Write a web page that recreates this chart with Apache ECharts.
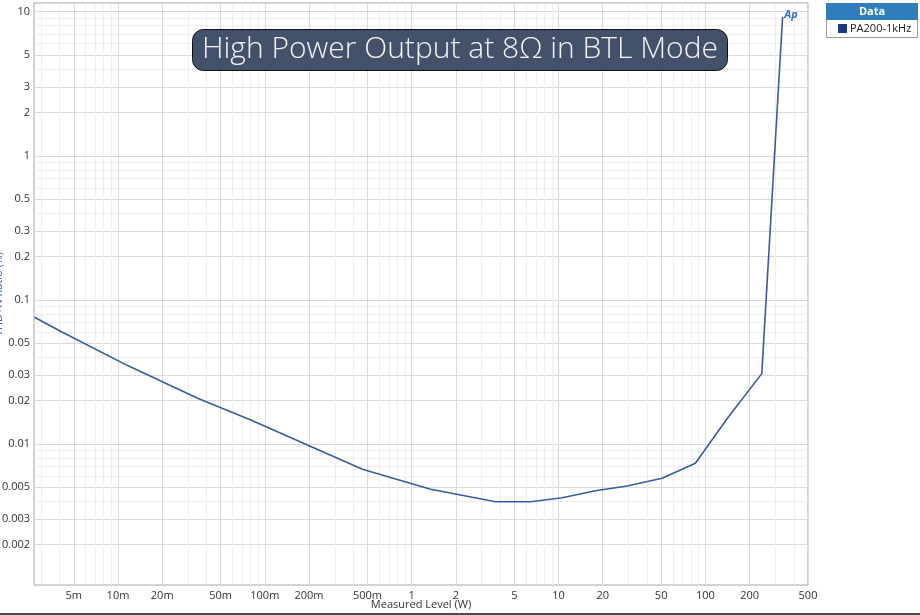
<!DOCTYPE html>
<html>
<head>
<meta charset="utf-8">
<script src="https://cdn.jsdelivr.net/npm/echarts@6/dist/echarts.min.js"></script>
<style>html,body{margin:0;padding:0;background:#fff}#c{width:920px;height:615px}</style>
</head>
<body>
<div id="c"></div>
<script>
// ---- data ----
const seriesName = 'PA200-1kHz';
const power = [0.0027, 0.00409, 0.01164, 0.03485, 0.0803, 0.2056, 0.462, 1.347, 3.727, 6.45, 10.6, 17.85, 29.3, 50.8, 85.5, 143.4, 242.3, 335.7];
const thdn  = [0.0758, 0.0604, 0.0350, 0.02077, 0.01468, 0.0096, 0.00667, 0.00485, 0.003976, 0.003976, 0.004238, 0.00474, 0.00511, 0.00578, 0.00734, 0.0154, 0.03078, 9.19];
const xTicks = [0.005, 0.01, 0.02, 0.05, 0.1, 0.2, 0.5, 1, 2, 5, 10, 20, 50, 100, 200, 500];
const xTickLabels = ['5m', '10m', '20m', '50m', '100m', '200m', '500m', '1', '2', '5', '10', '20', '50', '100', '200', '500'];
const yTicks = [0.002, 0.003, 0.005, 0.01, 0.02, 0.03, 0.05, 0.1, 0.2, 0.3, 0.5, 1, 2, 3, 5, 10];
const yTickLabels = ['0.002', '0.003', '0.005', '0.01', '0.02', '0.03', '0.05', '0.1', '0.2', '0.3', '0.5', '1', '2', '3', '5', '10'];
const xMin = 0.00268, xMax = 500;
const yMin = 0.00105, yMax = 11.5;

// minor grid values (1..9 x 10^n within range)
function minorVals(lo, hi) {
  const out = [];
  for (let e = -4; e <= 3; e++) {
    for (let k = 1; k <= 9; k++) {
      const v = +(k * Math.pow(10, e)).toPrecision(6);
      if (v >= lo && v <= hi) out.push(v);
    }
  }
  return out;
}
const xMinor = minorVals(xMin, xMax);
const yMinor = minorVals(yMin, yMax);

function lookup(vals, labels, v) {
  for (let i = 0; i < vals.length; i++) {
    if (Math.abs(vals[i] - v) / vals[i] < 1e-6) return labels[i];
  }
  return '';
}

const font = "'Open Sans', 'Noto Sans', sans-serif";
const chart = echarts.init(document.getElementById('c'), null, {renderer: 'canvas'});
const gridPos = {left: 34, right: 112, top: 3, bottom: 30};

chart.setOption({
  animation: false,
  backgroundColor: '#ffffff',
  title: {
    text: 'High Power Output at 8Ω in BTL Mode',
    left: 'center',
    top: 29,
    backgroundColor: '#43516b',
    borderColor: '#111',
    borderWidth: 1,
    borderRadius: 11,
    padding: [5, 10, 7, 10],
    textStyle: {color: '#f4f4f4', fontSize: 30, fontWeight: 300, fontFamily: font}
  },
  grid: Object.assign({show: true, borderColor: '#a6a6a6', borderWidth: 1, backgroundColor: 'transparent',
    containLabel: false, outerBoundsMode: 'none'}, gridPos),
  legend: {
    data: [seriesName],
    left: 838, top: 23,
    itemWidth: 9, itemHeight: 9, itemGap: 4,
    icon: 'rect',
    padding: 0,
    textStyle: {fontSize: 11, color: '#222', fontFamily: font, padding: [0, 0, 0, -2]}
  },
  graphic: [
    {type: 'rect', shape: {x: 826.5, y: 3.5, width: 91, height: 34}, style: {fill: '#fff', stroke: '#9a9a9a', lineWidth: 1}, z: 0},
    {type: 'rect', shape: {x: 826.5, y: 3.5, width: 91, height: 16}, style: {fill: '#2f7dbd', stroke: '#2f7dbd'}, z: 1},
    {type: 'text', x: 872, y: 11.5, style: {text: 'Data', fill: '#fff', font: "bold 11px 'Open Sans', sans-serif", textAlign: 'center', textVerticalAlign: 'middle'}, z: 2},
    {type: 'text', x: 791, y: 15, style: {text: 'Ap', fill: '#2f6fc0', font: "italic bold 11px 'Open Sans', sans-serif", textAlign: 'center', textVerticalAlign: 'middle'}, z: 5},
    {type: 'rect', shape: {x: 0, y: 613, width: 920, height: 2}, style: {fill: '#4a4a4a'}, z: 5}
  ],
  xAxis: [
    {
      type: 'log', min: xMin, max: xMax, gridIndex: 0, position: 'top',
      axisLine: {show: false}, axisLabel: {show: false},
      axisTick: {show: false, customValues: xMinor},
      splitLine: {show: true, lineStyle: {color: '#ededed', width: 1}}
    },
    {
      type: 'log', min: xMin, max: xMax, gridIndex: 0, position: 'bottom',
      name: 'Measured Level (W)', nameLocation: 'middle', nameGap: 14, nameMoveOverlap: false,
      nameTextStyle: {fontSize: 11, color: '#333', fontFamily: font},
      axisLine: {show: false},
      axisTick: {show: false, customValues: xTicks},
      axisLabel: {customValues: xTicks, fontSize: 11, color: '#333', fontFamily: font, margin: 5,
        formatter: v => lookup(xTicks, xTickLabels, v)},
      splitLine: {show: true, lineStyle: {color: '#d9d9d9', width: 1}}
    }
  ],
  yAxis: [
    {
      type: 'log', min: yMin, max: yMax, gridIndex: 0, position: 'right',
      axisLine: {show: false}, axisLabel: {show: false},
      axisTick: {show: false, customValues: yMinor},
      splitLine: {show: true, lineStyle: {color: '#ededed', width: 1}}
    },
    {
      type: 'log', min: yMin, max: yMax, gridIndex: 0, position: 'left',
      name: 'THD+N Ratio (%)', nameLocation: 'middle', nameGap: 30, nameMoveOverlap: false,
      nameTextStyle: {fontSize: 11, color: '#3060b0', fontFamily: font},
      axisLine: {show: false},
      axisTick: {show: false, customValues: yTicks},
      axisLabel: {customValues: yTicks, fontSize: 11, color: '#333', fontFamily: font, margin: 4,
        formatter: v => lookup(yTicks, yTickLabels, v)},
      splitLine: {show: true, lineStyle: {color: '#d9d9d9', width: 1}}
    }
  ],
  series: [{
    name: seriesName,
    type: 'line',
    xAxisIndex: 1, yAxisIndex: 1,
    data: power.map((p, i) => [p, thdn[i]]),
    showSymbol: false, symbol: 'none',
    itemStyle: {color: '#1b3a80'},
    lineStyle: {color: '#3b5a9e', width: 1.6},
    z: 3
  }]
});
</script>
</body>
</html>
